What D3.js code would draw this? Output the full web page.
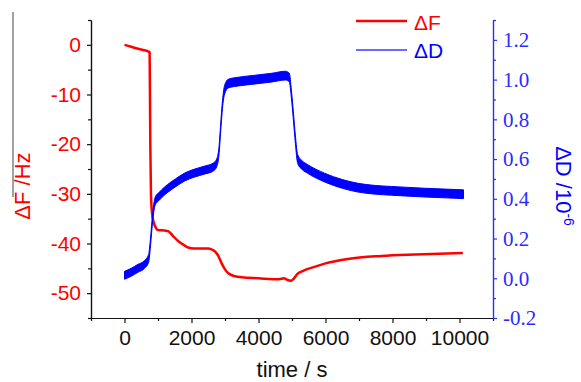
<!DOCTYPE html>
<html><head><meta charset="utf-8">
<script src="https://cdn.jsdelivr.net/npm/d3@7/dist/d3.min.js"></script>
<style>body{margin:0;background:#fff}svg{display:block}</style>
</head><body>
<svg id="c" width="581" height="382"></svg>
<script>
// ---- data ----
const fTime = [0,200,400,600,700,750,760,770,790,820,870,950,1000,1200,1300,1450,1600,1770,1900,2070,2500,2600,2700,2800,2900,3000,3100,3300,3500,4000,4600,4700,4760,4850,4970,5050,5150,5300,5670,6000,6670,7670,8670,10100];
const fValue = [0,-0.4,-0.8,-1.1,-1.3,-1.5,-10,-20,-30,-33.8,-35.7,-37.0,-37.3,-37.4,-37.5,-38.5,-39.5,-40.3,-40.8,-41.0,-41.0,-41.2,-41.6,-42.5,-44.0,-45.2,-46.0,-46.6,-46.8,-47.0,-47.2,-47.1,-47.0,-47.3,-47.5,-47.1,-46.2,-45.6,-44.7,-44.0,-43.1,-42.5,-42.2,-41.9];
const dTime = [0,200,400,600,720,770,820,870,920,1020,1200,1520,1800,2100,2400,2650,2750,2820,2880,2940,2990,3100,3400,3900,4400,4800,4920,4980,5040,5100,5170,5300,5470,5970,6500,6970,7500,7970,8970,10120];
const dValue = [0.015,0.03,0.05,0.07,0.10,0.17,0.27,0.35,0.39,0.41,0.44,0.48,0.51,0.53,0.545,0.56,0.58,0.64,0.78,0.90,0.95,0.98,0.99,1.0,1.01,1.02,1.01,0.93,0.82,0.70,0.60,0.57,0.55,0.507,0.475,0.456,0.445,0.44,0.431,0.423];
const dSpread = [0.02,0.02,0.02,0.02,0.02,0.02,0.02,0.02,0.02,0.02,0.02,0.02,0.02,0.02,0.02,0.02,0.02,0.02,0.02,0.02,0.022,0.022,0.022,0.022,0.022,0.022,0.022,0.02,0.02,0.02,0.022,0.022,0.022,0.022,0.022,0.022,0.022,0.022,0.022,0.022];
const xTicks = [0,2000,4000,6000,8000,10000];
const xMinor = [-1000,1000,3000,5000,7000,9000,11000];
const fTicks = [0,-10,-20,-30,-40,-50];
const fMinor = [5,-5,-15,-25,-35,-45,-55];
const dTicks = [-0.2,0,0.2,0.4,0.6,0.8,1.0,1.2];
const dMinor = [-0.1,0.1,0.3,0.5,0.7,0.9,1.1,1.3];
const seriesNames = ["\u0394F","\u0394D"];

const svg = d3.select("#c");
const L = 91, R = 493, T = 20, B = 318;
const x = d3.scaleLinear().domain([-1000, 11000]).range([L, R]);
const yF = d3.scaleLinear().domain([-55, 5]).range([B, T]);
const yD = d3.scaleLinear().domain([-0.2, 1.3]).range([B, T]);

const RED = "#ff0000", BLUE = "#0000ff", AXBLUE = "#2b2bff";
const SANS = "'Liberation Sans', Arial, sans-serif";
const SERIF = "'Liberation Serif', 'Times New Roman', serif";
const hy = f => (d => f(d).replace("\u2212", "-"));

// scan-edge line on the left
svg.append("line").attr("x1",13).attr("x2",13).attr("y1",12).attr("y2",197)
  .attr("stroke","#444").attr("stroke-width",1);

function styleAxis(g, color, font, size){
  g.selectAll("path").attr("stroke", color).attr("stroke-width",1.2);
  g.selectAll("line").attr("stroke", color).attr("stroke-width",1.2);
  g.selectAll("text").attr("fill", color).style("font-family", font).style("font-size", size+"px");
}

// left axis
const gl = svg.append("g").attr("transform",`translate(${L},0)`)
  .call(d3.axisLeft(yF).tickValues(fTicks).tickSize(4).tickPadding(6).tickSizeOuter(0).tickFormat(hy(d3.format("d"))));
styleAxis(gl, "#111", SANS, 21);
gl.selectAll("text").attr("fill", RED);
const glm = svg.append("g").attr("transform",`translate(${L},0)`)
  .call(d3.axisLeft(yF).tickValues(fMinor).tickSize(3).tickSizeOuter(0).tickFormat(""));
styleAxis(glm, "#111", SANS, 21);

// bottom axis
const gb = svg.append("g").attr("transform",`translate(0,${B})`)
  .call(d3.axisBottom(x).tickValues(xTicks).tickSize(5).tickPadding(7).tickSizeOuter(0).tickFormat(d3.format("d")));
styleAxis(gb, "#111", SANS, 21);
const gbm = svg.append("g").attr("transform",`translate(0,${B})`)
  .call(d3.axisBottom(x).tickValues(xMinor).tickSize(3).tickSizeOuter(0).tickFormat(""));
styleAxis(gbm, "#111", SANS, 21);

// right axis
const gr = svg.append("g").attr("transform",`translate(${R},0)`)
  .call(d3.axisRight(yD).tickValues(dTicks).tickSize(4).tickPadding(6).tickSizeOuter(0).tickFormat(hy(d3.format(".1f"))));
styleAxis(gr, AXBLUE, SERIF, 21);
const grm = svg.append("g").attr("transform",`translate(${R},0)`)
  .call(d3.axisRight(yD).tickValues(dMinor).tickSize(3).tickSizeOuter(0).tickFormat(""));
styleAxis(grm, AXBLUE, SERIF, 21);

// axis titles
svg.append("text").attr("x", 292).attr("y", 377).attr("text-anchor","middle")
  .style("font-family", SANS).style("font-size","22px").attr("fill","#111").text("time / s");
svg.append("text").attr("transform","translate(30,186) rotate(-90)").attr("text-anchor","middle")
  .style("font-family", SANS).style("font-size","22px").attr("fill", RED).text("\u0394F /Hz");
const dt = svg.append("text").attr("transform","translate(556,186) rotate(90)").attr("text-anchor","middle")
  .style("font-family", SANS).style("font-size","22px").attr("fill", BLUE);
dt.append("tspan").text("\u0394D /10");
dt.append("tspan").attr("dy",-8).style("font-size","14px").text("-6");

// series
const fData = fTime.map((t,i)=>({t, v:fValue[i]}));
const dData = dTime.map((t,i)=>({t, v:dValue[i], s:dSpread[i]}));

svg.append("path").datum(fData)
  .attr("d", d3.line().x(d=>x(d.t)).y(d=>yF(d.v)).curve(d3.curveMonotoneX))
  .attr("fill","none").attr("stroke", RED).attr("stroke-width",2.5).attr("stroke-linejoin","round");

svg.append("path").datum(dData)
  .attr("d", d3.area().x(d=>x(d.t)).y0(d=>yD(d.v - d.s)).y1(d=>yD(d.v + d.s)).curve(d3.curveMonotoneX))
  .attr("fill", BLUE).attr("stroke", BLUE).attr("stroke-width",1);

// legend
const lg = svg.append("g");
lg.append("line").attr("x1",356).attr("x2",407).attr("y1",21).attr("y2",21).attr("stroke",RED).attr("stroke-width",2.5);
lg.append("text").attr("x",414).attr("y",30).style("font-family",SANS).style("font-size","21px").attr("fill",RED).text(seriesNames[0]);
lg.append("line").attr("x1",356).attr("x2",407).attr("y1",50).attr("y2",50).attr("stroke","#3a3aff").attr("stroke-width",1.4);
lg.append("text").attr("x",414).attr("y",58).style("font-family",SANS).style("font-size","21px").attr("fill",BLUE).text(seriesNames[1]);
</script>
</body></html>
